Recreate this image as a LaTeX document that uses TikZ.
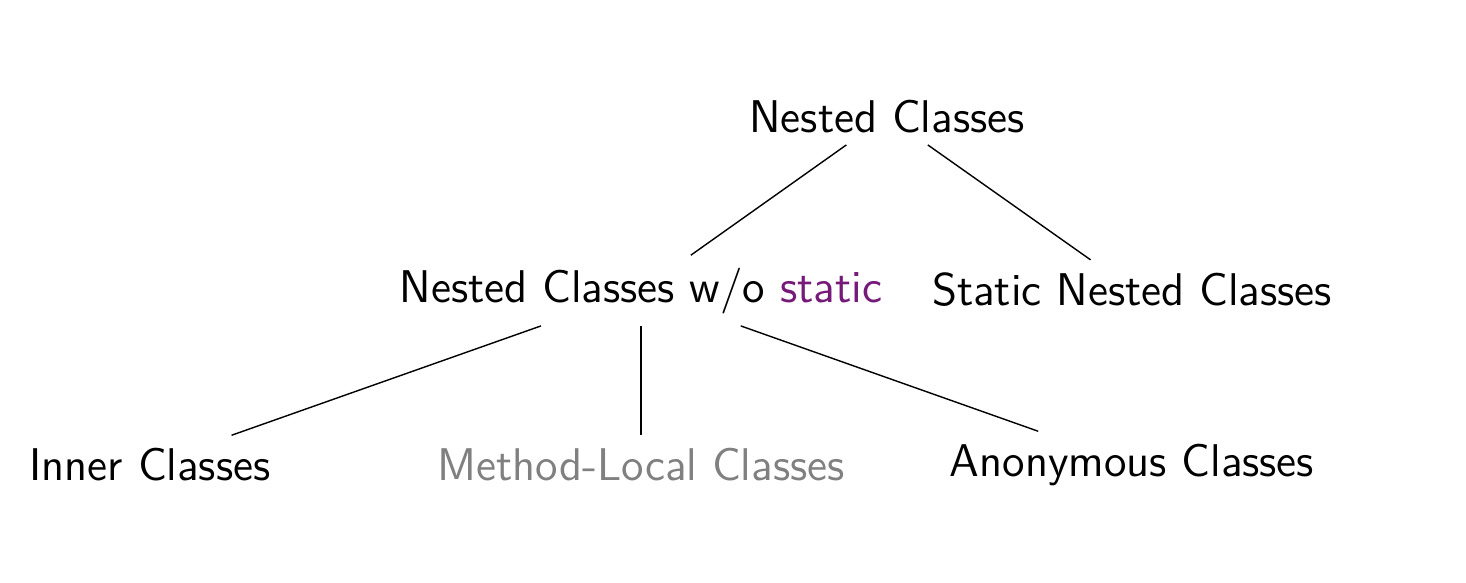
\documentclass[tikz,border=0pt]{standalone}
\definecolor{kwpurple}{RGB}{117,26,120}

\begin{document}
\begin{tikzpicture}[
		classnode/.style={font=\fontsize{13.05}{15}\selectfont\sffamily, anchor=base},
		hiddennode/.style={classnode, text=gray}
		]
		\useasboundingbox (0,0) rectangle (14.66,-5.82);

		\node[classnode] (nested) at (8.87,-1.32) {Nested Classes};
		\node[classnode] (nonstatic) at (6.41,-3.02) {Nested Classes w/o \textcolor{kwpurple}{static}};
		\node[classnode] (static) at (11.32,-3.05) {Static Nested Classes};
		\node[classnode] (inner) at (1.50,-4.80) {Inner Classes};
		\node[hiddennode] (local) at (6.41,-4.80) {Method-Local Classes};
		\node[classnode] (anon) at (11.32,-4.76) {Anonymous Classes};

		\draw (nested) -- (nonstatic);
		\draw (nested) -- (static);
		\draw (nonstatic) -- (inner);
		\draw (nonstatic) -- (local);
		\draw (nonstatic) -- (anon);
	\end{tikzpicture}
\end{document}
